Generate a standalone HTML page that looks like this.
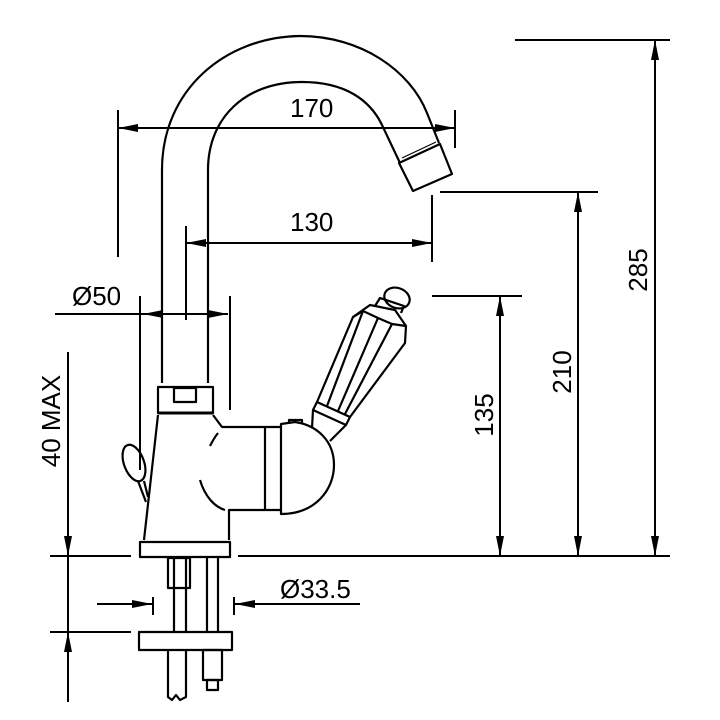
<!DOCTYPE html>
<html><head><meta charset="utf-8"><style>
html,body{margin:0;padding:0;background:#fff}
svg{display:block}
text{font-family:"Liberation Sans",sans-serif;font-size:26px;fill:#000}
</style></head><body>
<svg width="720" height="720" viewBox="0 0 720 720" xmlns="http://www.w3.org/2000/svg">
<defs>
<marker id="a" viewBox="0 0 20 8" refX="20" refY="4" markerWidth="20" markerHeight="8" markerUnits="userSpaceOnUse" orient="auto-start-reverse"><path d="M0,0 L20,4 L0,8 z" fill="#000"/></marker>
</defs>
<g fill="none" stroke="#000" stroke-width="2.2" stroke-linejoin="round">
<!-- spout -->
<path d="M162,383 L162,170 C162,90 225,37 300,36 C360,36 410,70 427,113 L439,143"/>
<path d="M208,383 L208,170 C208,118 245,82 302,82 C345,82 370,100 382,125 L400,163"/>
<path d="M399,163 L440,144 L452,174 L413,191 Z"/>
<path d="M402,158 L436,142" stroke-width="1.2"/>
<!-- nut -->
<rect x="158" y="387" width="55" height="26"/>
<rect x="174" y="388" width="22" height="14"/>
<line x1="158" y1="413" x2="213" y2="413" stroke-width="3"/>
<!-- body -->
<path d="M158,415 L144,540 M213,415 L222,427 L281,427 M229,540 L229,510 L281,510"/>
<line x1="265" y1="427" x2="265" y2="510"/>
<path d="M281,424 L281,514 C315,514 334,490 334,465 C334,440 316,425 295,422 L281,424 Z"/>
<path d="M289,424 L289,420 L302,420 L302,423"/>
<path d="M218,433 C214,438 212,442 210,446"/>
<path d="M200,480 C205,497 215,507 225,510"/>
<!-- lever -->
<ellipse cx="134" cy="463" rx="10" ry="19" transform="rotate(-20 134 463)"/>
<path d="M138,481 L146,502 M144,481 L148,497"/>
<!-- handle -->
<path d="M313,410 L312,428 M346,425 L330,441"/>
<path d="M313,410 L317,402 L350,417 L346,425 Z"/>
<path d="M317,402 L353,317 L370,305 L395,310 L406,326 L405,343 L350,417"/>
<path d="M353,317 L363,311 L378,318 L392,324 L406,326"/>
<path d="M363,311 L327,406 M378,318 L338,411 M392,324 L345,414"/>
<path d="M375,306 L380,298 L404,306 L401,313"/>
<ellipse cx="397" cy="298" rx="13" ry="10" transform="rotate(20 397 298)"/>
<!-- base -->
<rect x="140" y="542" width="90" height="15"/>
<rect x="168" y="558" width="22" height="30"/>
<line x1="174" y1="558" x2="174" y2="632"/><line x1="186" y1="558" x2="186" y2="632"/>
<line x1="207" y1="558" x2="207" y2="632"/><line x1="218" y1="558" x2="218" y2="632"/>
<rect x="139" y="632" width="93" height="18"/>
<path d="M168,650 L168,697 L172,700 L176,695 L180,700 L186,697 L186,650"/>
<rect x="203" y="650" width="19" height="30"/>
<rect x="207" y="680" width="11" height="10"/>
</g>
<g stroke="#000" stroke-width="2" fill="none">
<line x1="50" y1="556" x2="131" y2="556"/><line x1="238" y1="556" x2="670" y2="556"/>
<line x1="50" y1="632" x2="131" y2="632"/>
<line x1="515" y1="40" x2="670" y2="40"/>
<line x1="655" y1="40" x2="655" y2="556" marker-start="url(#a)" marker-end="url(#a)"/>
<line x1="440" y1="192" x2="598" y2="192"/>
<line x1="578" y1="192" x2="578" y2="556" marker-start="url(#a)" marker-end="url(#a)"/>
<line x1="432" y1="296" x2="522" y2="296"/>
<line x1="500" y1="296" x2="500" y2="556" marker-start="url(#a)" marker-end="url(#a)"/>
<line x1="68" y1="352" x2="68" y2="556" marker-end="url(#a)"/>
<line x1="68" y1="556" x2="68" y2="632"/>
<line x1="68" y1="702" x2="68" y2="632" marker-end="url(#a)"/>
<line x1="118" y1="110" x2="118" y2="257"/>
<line x1="455" y1="110" x2="455" y2="148"/>
<line x1="118" y1="128" x2="455" y2="128" marker-start="url(#a)" marker-end="url(#a)"/>
<line x1="186" y1="226" x2="186" y2="320"/>
<line x1="432" y1="195" x2="432" y2="262"/>
<line x1="186" y1="243" x2="432" y2="243" marker-start="url(#a)" marker-end="url(#a)"/>
<line x1="140" y1="296" x2="140" y2="470"/>
<line x1="230" y1="296" x2="230" y2="410"/>
<line x1="55" y1="314" x2="143" y2="314"/>
<line x1="143" y1="314" x2="228" y2="314" marker-start="url(#a)" marker-end="url(#a)"/>
<line x1="153" y1="597" x2="153" y2="615"/>
<line x1="234" y1="597" x2="234" y2="615"/>
<line x1="97" y1="604" x2="152" y2="604" marker-end="url(#a)"/>
<line x1="360" y1="604" x2="235" y2="604" marker-end="url(#a)"/>
</g>
<text x="290" y="117">170</text>
<text x="290" y="231">130</text>
<text x="72" y="305">Ø50</text>
<text x="280" y="598">Ø33.5</text>
<text transform="translate(647,270) rotate(-90)" text-anchor="middle">285</text>
<text transform="translate(571,372) rotate(-90)" text-anchor="middle">210</text>
<text transform="translate(493,415) rotate(-90)" text-anchor="middle">135</text>
<text transform="translate(60,421) rotate(-90)" text-anchor="middle">40 MAX</text>
</svg>
</body></html>
